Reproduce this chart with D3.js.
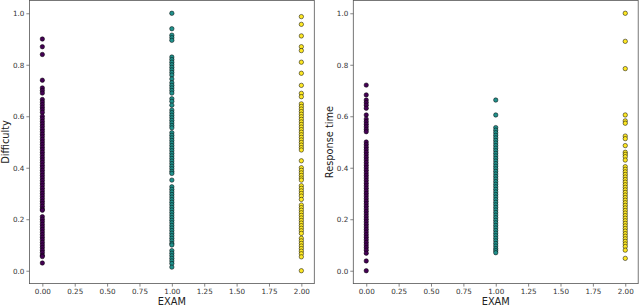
<!DOCTYPE html>
<html>
<head>
<meta charset="utf-8">
<script src="https://cdn.jsdelivr.net/npm/d3@7"></script>
<style>
body { margin: 0; background: #fff; }
svg { display: block; font-family: "DejaVu Sans", sans-serif; }
</style>
</head>
<body>
<script>
// exam categories (x) and values per panel
var exams = [0, 1, 2];
var colors = ["#440154", "#21918c", "#fde725"];
var xTicks = [0, 0.25, 0.5, 0.75, 1, 1.25, 1.5, 1.75, 2];
var yTicks = [0, 0.2, 0.4, 0.6, 0.8, 1.0];

var difficulty0 = [0.90, 0.87, 0.84, 0.74, 0.71, 0.70, 0.69, 0.665, 0.655, 0.645, 0.635, 0.625, 0.615,
    0.60, 0.59, 0.58, 0.57, 0.56, 0.55, 0.54, 0.53, 0.52, 0.51, 0.50, 0.49, 0.48, 0.47, 0.46, 0.45,
    0.44, 0.43, 0.42, 0.41, 0.40, 0.39, 0.38, 0.37, 0.36, 0.35, 0.34, 0.33, 0.32, 0.31, 0.30, 0.29,
    0.28, 0.27, 0.26, 0.25, 0.24, 0.235, 0.21, 0.20, 0.19, 0.18, 0.17, 0.16, 0.15, 0.14, 0.13, 0.12,
    0.11, 0.10, 0.09, 0.08, 0.07, 0.06, 0.055, 0.03];
var difficulty1 = [1.00, 0.94, 0.915, 0.905, 0.895, 0.83, 0.82, 0.81, 0.80, 0.79, 0.78, 0.77, 0.76, 0.745,
    0.73, 0.72, 0.71, 0.70, 0.69, 0.668, 0.658, 0.643, 0.624, 0.614, 0.604, 0.594, 0.584, 0.574, 0.564, 0.555,
    0.536, 0.526, 0.516, 0.506, 0.496, 0.486, 0.476, 0.466, 0.456, 0.446, 0.436, 0.426, 0.416, 0.406,
    0.396, 0.386, 0.378, 0.352, 0.326, 0.316, 0.306, 0.296, 0.286, 0.276, 0.266, 0.256, 0.246, 0.236,
    0.226, 0.216, 0.206, 0.196, 0.186, 0.176, 0.166, 0.156, 0.146, 0.136, 0.126, 0.116, 0.106, 0.10,
    0.078, 0.068, 0.058, 0.048, 0.038, 0.028, 0.014];
var difficulty2 = [0.987, 0.957, 0.912, 0.870, 0.855, 0.81, 0.767, 0.72, 0.689, 0.676, 0.648, 0.638,
    0.628, 0.618, 0.608, 0.598, 0.588, 0.578, 0.568, 0.558, 0.548, 0.538, 0.528, 0.518, 0.508, 0.498,
    0.488, 0.478, 0.469, 0.427, 0.40, 0.39, 0.38, 0.37, 0.36, 0.352, 0.33, 0.32, 0.31, 0.30, 0.29, 0.277,
    0.255, 0.245, 0.235, 0.225, 0.215, 0.205, 0.195, 0.185, 0.175, 0.165, 0.155, 0.145, 0.126, 0.116,
    0.106, 0.096, 0.086, 0.076, 0.066, 0.054, 0.0];

var response0 = [0.721, 0.683, 0.663, 0.653, 0.643, 0.631, 0.605, 0.589, 0.579, 0.569, 0.559, 0.549, 0.54,
    0.50, 0.49, 0.48, 0.47, 0.46, 0.45, 0.44, 0.43, 0.42, 0.41, 0.40, 0.39, 0.38, 0.37, 0.36, 0.35,
    0.34, 0.33, 0.32, 0.31, 0.30, 0.29, 0.28, 0.27, 0.26, 0.25, 0.24, 0.23, 0.22, 0.21, 0.20, 0.19,
    0.18, 0.17, 0.16, 0.15, 0.14, 0.13, 0.12, 0.11, 0.10, 0.09, 0.08, 0.068, 0.038, 0.0];
var response1 = [0.663, 0.605, 0.556, 0.546, 0.536, 0.526, 0.516, 0.506, 0.496, 0.486, 0.476, 0.466,
    0.456, 0.446, 0.436, 0.426, 0.416, 0.406, 0.396, 0.386, 0.376, 0.366, 0.356, 0.346, 0.336, 0.326,
    0.316, 0.306, 0.296, 0.286, 0.276, 0.266, 0.256, 0.246, 0.236, 0.226, 0.216, 0.206, 0.196, 0.186,
    0.176, 0.166, 0.156, 0.146, 0.136, 0.126, 0.116, 0.106, 0.096, 0.086, 0.078, 0.07];
var response2 = [1.0, 0.891, 0.785, 0.605, 0.582, 0.573, 0.523, 0.513, 0.486, 0.46, 0.452, 0.443, 0.43,
    0.404, 0.394, 0.384, 0.374, 0.364, 0.354, 0.344, 0.334, 0.324, 0.314, 0.304, 0.294, 0.284, 0.274,
    0.264, 0.254, 0.244, 0.234, 0.224, 0.214, 0.204, 0.194, 0.184, 0.174, 0.164, 0.154, 0.144, 0.134,
    0.124, 0.114, 0.104, 0.094, 0.08, 0.048];

var panels = [
    { label: "Difficulty", left: 29.4, right: 314.3, series: [difficulty0, difficulty1, difficulty2], ylx: 5 },
    { label: "Response time", left: 353.3, right: 638.2, series: [response0, response1, response2], ylx: 329 }
];

var width = 640, height = 306;
var plotTop = 0.4, plotBottom = 283.6;

var svg = d3.select("body").append("svg")
    .attr("width", width)
    .attr("height", height);

panels.forEach(function (p) {
    var x = d3.scaleLinear().domain([-0.1, 2.1]).range([p.left, p.right]);
    var y = d3.scaleLinear().domain([-0.05, 1.05]).range([plotBottom, plotTop]);
    var g = svg.append("g");

    var pts = [];
    p.series.forEach(function (vals, i) {
        vals.forEach(function (v) { pts.push({ x: exams[i], y: v, c: colors[i] }); });
    });

    g.selectAll("circle")
        .data(pts)
        .enter()
        .append("circle")
        .attr("cx", function (d) { return x(d.x); })
        .attr("cy", function (d) { return y(d.y); })
        .attr("r", 2.2)
        .attr("fill", function (d) { return d.c; })
        .attr("stroke", "#000")
        .attr("stroke-width", 0.5);

    var xa = g.append("g")
        .attr("transform", "translate(0," + plotBottom + ")")
        .call(d3.axisBottom(x).tickValues(xTicks).tickFormat(d3.format(".2f")).tickSize(3).tickPadding(2));
    var ya = g.append("g")
        .attr("transform", "translate(" + p.left + ",0)")
        .call(d3.axisLeft(y).tickValues(yTicks).tickFormat(d3.format(".1f")).tickSize(3).tickPadding(2));
    [xa, ya].forEach(function (a) {
        a.select(".domain").remove();
        a.selectAll("line").attr("stroke", "#333").attr("stroke-width", 0.6);
        a.selectAll("text").attr("fill", "#333").style("font-size", "7.2px").style("font-family", "DejaVu Sans");
    });

    g.append("rect")
        .attr("x", p.left)
        .attr("y", plotTop)
        .attr("width", p.right - p.left)
        .attr("height", plotBottom - plotTop)
        .attr("fill", "none")
        .attr("stroke", "#555")
        .attr("stroke-width", 0.8);

    g.append("text")
        .attr("x", (p.left + p.right) / 2)
        .attr("y", 305)
        .attr("text-anchor", "middle")
        .style("font-size", "9.8px")
        .attr("fill", "#222")
        .text("EXAM");

    g.append("text")
        .attr("transform", "translate(" + (p.ylx + 3.5) + "," + ((plotTop + plotBottom) / 2) + ") rotate(-90)")
        .attr("text-anchor", "middle")
        .style("font-size", "9.8px")
        .attr("fill", "#222")
        .text(p.label);
});
</script>
</body>
</html>
